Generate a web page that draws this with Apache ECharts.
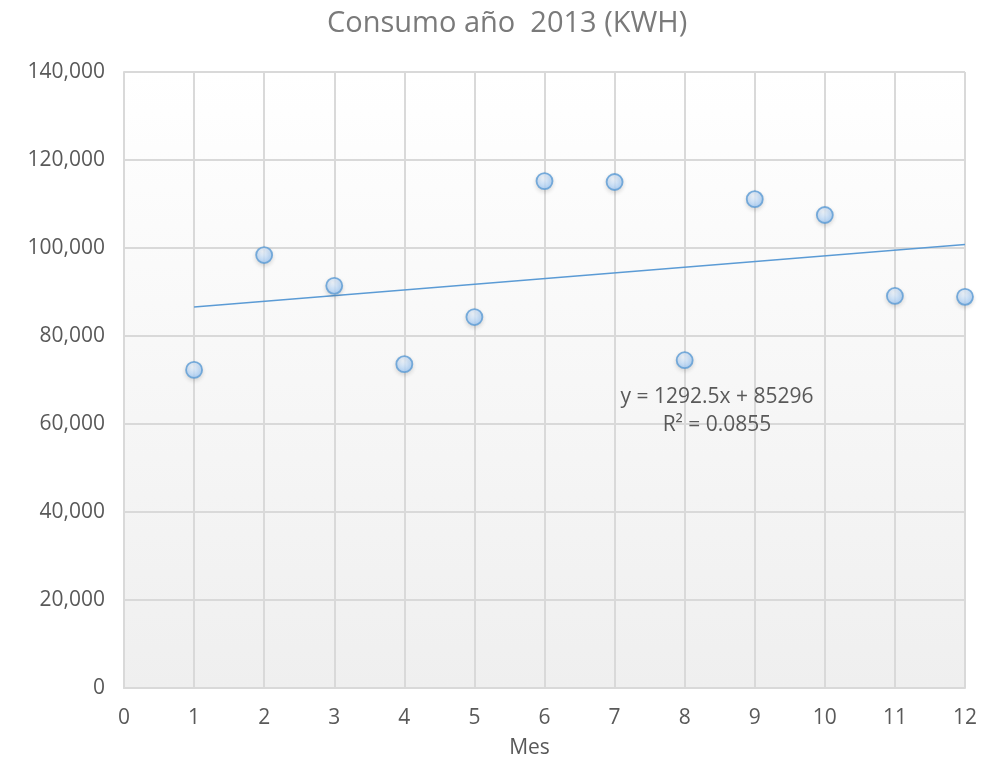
<!DOCTYPE html>
<html>
<head>
<meta charset="utf-8">
<script src="https://cdn.jsdelivr.net/npm/echarts@6/dist/echarts.min.js"></script>
<style>
  html, body { margin: 0; padding: 0; background: #ffffff; }
  #chart { width: 991px; height: 757px; }
</style>
</head>
<body>
<div id="chart"></div>
<script>
// Monthly electricity consumption (kWh), 2013
const months = [1, 2, 3, 4, 5, 6, 7, 8, 9, 10, 11, 12];
const consumo = [72300, 98400, 91400, 73600, 84300, 115200, 115000, 74500, 111100, 107500, 89100, 88900];

// Linear trendline as reported: y = 1292.5x + 85296, R² = 0.0855
const trendSlope = 1292.5;
const trendIntercept = 85296;
const trendLabel = ['y = 1292.5x + 85296', 'R² = 0.0855'];

const trendStart = 1, trendEnd = 12;
const trendData = [
  [trendStart, trendSlope * trendStart + trendIntercept],
  [trendEnd, trendSlope * trendEnd + trendIntercept]
];

const FONT = '"Open Sans", sans-serif';
const chart = echarts.init(document.getElementById('chart'));

chart.setOption({
  animation: false,
  title: {
    text: 'Consumo año  2013 (KWH)',
    left: 322,
    top: 4,
    textStyle: { fontFamily: FONT, fontSize: 29, fontWeight: 'normal', color: '#7a7a7a' }
  },
  grid: {
    left: 124, right: 26, top: 72, bottom: 69,
    outerBoundsMode: 'none',
    containLabel: false,
    show: true,
    borderWidth: 0,
    backgroundColor: new echarts.graphic.LinearGradient(0, 0, 0, 1, [
      { offset: 0, color: '#ffffff' },
      { offset: 1, color: '#efefef' }
    ])
  },
  xAxis: {
    type: 'value',
    min: 0, max: 12, interval: 1,
    name: 'Mes',
    nameLocation: 'middle',
    nameGap: 50,
    nameTextStyle: { fontFamily: FONT, fontSize: 21, color: '#595959', padding: [0, 30, 0, 0] },
    axisLine: { show: true, lineStyle: { color: '#d9d9d9', width: 2 } },
    axisTick: { show: false },
    splitLine: { show: true, lineStyle: { color: '#d9d9d9', width: 2 } },
    axisLabel: { fontFamily: FONT, fontSize: 21, color: '#595959', margin: 20 }
  },
  yAxis: {
    type: 'value',
    min: 0, max: 140000, interval: 20000,
    axisLine: { show: true, lineStyle: { color: '#d9d9d9', width: 2 } },
    axisTick: { show: false },
    splitLine: { show: true, lineStyle: { color: '#d9d9d9', width: 2 } },
    axisLabel: {
      fontFamily: FONT, fontSize: 21, color: '#595959', margin: 19,
      formatter: v => v.toLocaleString('en-US')
    }
  },
  series: [
    {
      type: 'line',
      data: trendData,
      symbol: 'none',
      lineStyle: { color: '#5b9bd5', width: 1.5 },
      silent: true,
      z: 2
    },
    {
      type: 'scatter',
      data: months.map((m, i) => [m, consumo[i]]),
      symbol: 'circle',
      symbolSize: 16,
      itemStyle: {
        color: new echarts.graphic.RadialGradient(0.4, 0.3, 0.8, [
          { offset: 0, color: '#f0f7ff' },
          { offset: 1, color: '#94c4f7' }
        ]),
        borderColor: '#5b9bd5',
        borderWidth: 1.8,
        shadowBlur: 4,
        shadowOffsetY: 2,
        shadowColor: 'rgba(0,0,0,0.15)'
      },
      z: 3
    }
  ],
  graphic: [
    {
      type: 'text',
      x: 717, y: 383,
      z: 10,
      style: {
        text: trendLabel.join('\n'),
        fontFamily: FONT, fontSize: 21, fill: '#595959',
        align: 'center', lineHeight: 28
      }
    }
  ]
});
</script>
</body>
</html>
